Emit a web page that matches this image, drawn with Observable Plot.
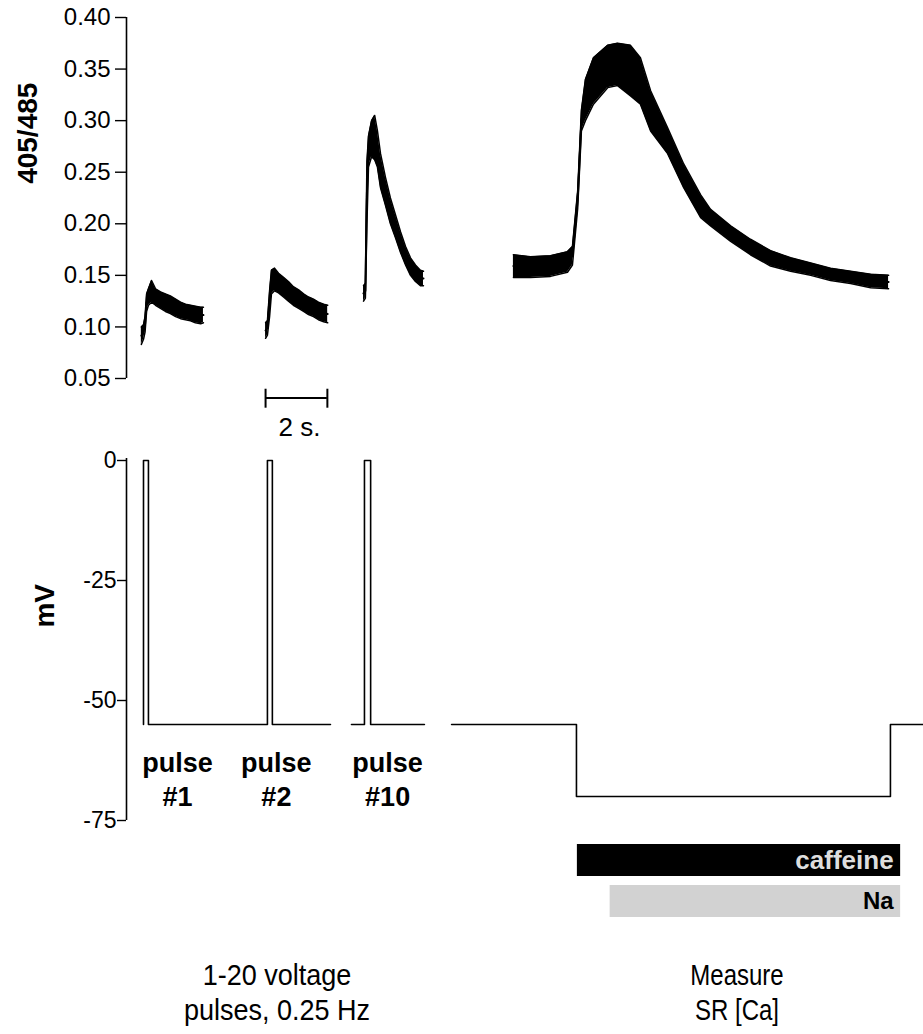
<!DOCTYPE html>
<html><head><meta charset="utf-8">
<script src="https://cdn.jsdelivr.net/npm/d3@7"></script>
<script src="https://cdn.jsdelivr.net/npm/@observablehq/plot@0.6"></script>
<style>
body{margin:0;background:#fff;}
#wrap{position:relative;width:923px;height:1034px;overflow:hidden;font-family:"Liberation Sans",Arial,sans-serif;background:#fff;}
#wrap > div.p{position:absolute;left:0;}
.cap{position:absolute;width:300px;text-align:center;font-size:30px;line-height:35px;color:#000;
  font-family:"Liberation Sans",Arial,sans-serif;transform-origin:50% 50%;}
</style></head><body>
<div id="wrap">
 <div class="p" id="top" style="top:0"></div>
 <div class="p" id="bottom" style="top:445px"></div>
 <div class="p" id="bars" style="top:840px"></div>
 <div class="cap" style="left:127px;top:957px;transform:scaleX(0.9)">1-20 voltage<br>pulses, 0.25 Hz</div>
 <div class="cap" style="left:587px;top:957px;transform:scaleX(0.8)">Measure<br>SR [Ca]</div>
</div>
<script>
// ---------- data (display time in s; traces separated by breaks) ----------
const timeDomain = [-0.55, 25.24];

// 405/485 ratio traces: lower / upper edge of the noisy band
const t1  = [-0.07,0,0.05,0.10,0.16,0.26,0.39,0.55,0.71,0.87,1.04,1.20,1.36,1.52,1.68,1.85,1.94];
const lo1 = [0.083,0.088,0.095,0.115,0.121,0.124,0.121,0.118,0.115,0.113,0.110,0.108,0.107,0.106,0.104,0.103,0.104];
const hi1 = [0.100,0.102,0.110,0.132,0.137,0.145,0.137,0.134,0.132,0.130,0.127,0.124,0.122,0.121,0.120,0.119,0.119];

const t2  = [3.95,4.01,4.08,4.14,4.24,4.37,4.53,4.69,4.85,5.02,5.18,5.34,5.50,5.66,5.83,5.96];
const lo2 = [0.089,0.092,0.110,0.132,0.135,0.133,0.129,0.125,0.121,0.118,0.115,0.112,0.110,0.107,0.105,0.104];
const hi2 = [0.104,0.106,0.135,0.155,0.157,0.152,0.148,0.144,0.139,0.136,0.132,0.129,0.127,0.124,0.122,0.121];

const t3  = [7.12,7.18,7.23,7.28,7.38,7.48,7.57,7.67,7.83,7.99,8.16,8.32,8.48,8.64,8.80,8.96,9.06];
const lo3 = [0.125,0.128,0.200,0.255,0.265,0.262,0.255,0.235,0.218,0.200,0.186,0.172,0.160,0.150,0.144,0.140,0.140];
const hi3 = [0.140,0.142,0.260,0.285,0.300,0.305,0.290,0.268,0.245,0.225,0.208,0.192,0.178,0.167,0.160,0.155,0.154];

const t4  = [11.97,12.52,13.17,13.72,13.88,14.05,14.17,14.30,14.56,15.02,15.34,15.76,16.08,16.41,16.96,17.48,18.03,18.35,19.00,19.64,20.29,20.94,21.59,22.23,22.88,23.53,24.11];
const lo4 = [0.148,0.148,0.149,0.153,0.160,0.215,0.290,0.300,0.316,0.332,0.334,0.324,0.316,0.290,0.268,0.235,0.206,0.198,0.183,0.170,0.159,0.154,0.150,0.145,0.142,0.138,0.137];
const hi4 = [0.170,0.168,0.169,0.173,0.178,0.232,0.310,0.340,0.361,0.373,0.375,0.373,0.361,0.329,0.293,0.258,0.228,0.214,0.198,0.185,0.174,0.167,0.162,0.157,0.154,0.151,0.150];

const ratioTicks = [0.05,0.10,0.15,0.20,0.25,0.30,0.35,0.40];

// voltage protocol
const vSeg  = ["a","a","a","a","a","a","a","a","a", "b","b","b","b","b","b", "c","c","c","c","c","c"];
const vTime = [0,0,0.16,0.16,4.01,4.01,4.17,4.17,6.05, 6.73,7.15,7.15,7.35,7.35,9.09, 9.97,14.01,14.01,24.17,24.17,25.24];
const vMv   = [-55,0,0,-55,-55,0,0,-55,-55, -55,-55,0,0,-55,-55, -55,-55,-70,-70,-55,-55];
const mvTicks = [0,-25,-50,-75];

const pulseLabelTime = [1.10, 4.30, 7.90];
const pulseWord = ["pulse","pulse","pulse"];
const pulseNum = ["#1","#2","#10"];

// scale bar
const scaleBarStart = 3.95;
const scaleBarLength = 2;
const scaleBarLabel = "2 s.";

// solution bars
const solNames = ["caffeine","Na"];
const solStart = [14.04, 15.1];
const solEnd = [24.5, 24.5];

// ---------- tables ----------
const fluor = [];
[[t1,lo1,hi1,"1"],[t2,lo2,hi2,"2"],[t3,lo3,hi3,"10"],[t4,lo4,hi4,"caf"]].forEach(([t,lo,hi,k]) =>
  t.forEach((v,i) => fluor.push({trace:k, t:v, lo:lo[i], hi:hi[i], mid:(lo[i]+hi[i])/2})));
const volt = vTime.map((t,i) => ({seg:vSeg[i], t, mv:vMv[i]}));
const pulseLabels = pulseLabelTime.map((t,i) => ({t, word:pulseWord[i], num:pulseNum[i]}));
const sol = solNames.map((name,i) => ({name, x1:solStart[i], x2:solEnd[i]}));

const font = "'Liberation Sans', Arial, Helvetica, sans-serif";
const xScale = {domain: timeDomain, range: [126, 923], axis: null};

// ---------- top panel ----------
const topPlot = Plot.plot({
  width: 923, height: 445,
  marginLeft: 126, marginRight: 0, marginTop: 17, marginBottom: 67,
  style: {fontFamily: font, background: "white", color: "black"},
  x: xScale,
  y: {domain: [0.05, 0.40], axis: null},
  marks: [
    Plot.ruleX([timeDomain[0]], {y1: 0.05, y2: 0.40, stroke: "black", strokeWidth: 1.6}),
    Plot.axisY({ticks: ratioTicks, tickFormat: d => d.toFixed(2), tickSize: 11, tickPadding: 5,
      fontSize: 24, label: null, strokeWidth: 1.4}),
    Plot.text(["405/485"], {y: 0.2387, frameAnchor: "left", dx: -98, rotate: -90,
      fontSize: 28, fontWeight: "bold", text: d => d}),
    Plot.areaY(fluor, {x: "t", y1: "lo", y2: "hi", z: "trace", fill: "black"}),
    Plot.line(fluor, {x: "t", y: "lo", z: "trace", stroke: "black", strokeWidth: 1.5}),
    Plot.line(fluor, {x: "t", y: "hi", z: "trace", stroke: "black", strokeWidth: 1.5}),
    Plot.line(fluor, {x: "t", y: "mid", z: "trace", stroke: "black", strokeWidth: 2}),
    // 2 s scale bar
    Plot.ruleY([0.031], {x1: scaleBarStart, x2: scaleBarStart + scaleBarLength, stroke: "black", strokeWidth: 2}),
    Plot.ruleX([scaleBarStart, scaleBarStart + scaleBarLength], {y1: 0.0212, y2: 0.0396, stroke: "black", strokeWidth: 2}),
    Plot.text([scaleBarLabel], {x: scaleBarStart + scaleBarLength / 2, y: 0.002, dx: 3, text: d => d, fontSize: 26})
  ]
});
document.getElementById("top").append(topPlot);

// ---------- bottom panel ----------
const bottomPlot = Plot.plot({
  width: 923, height: 395,
  marginLeft: 126, marginRight: 0, marginTop: 15, marginBottom: 20,
  style: {fontFamily: font, background: "white", color: "black"},
  x: xScale,
  y: {domain: [-75, 0], axis: null},
  marks: [
    Plot.ruleX([timeDomain[0]], {y1: -75, y2: 0.4, stroke: "black", strokeWidth: 1.6}),
    Plot.axisY({ticks: mvTicks, tickFormat: d => String(d), tickSize: 9, tickPadding: 1,
      fontSize: 23, label: null, strokeWidth: 1.4}),
    Plot.text(["mV"], {y: -34.8, frameAnchor: "left", dx: -81, rotate: -90,
      fontSize: 28, fontWeight: "bold", text: d => d}),
    Plot.line(volt, {x: "t", y: "mv", z: "seg", stroke: "black", strokeWidth: 1.6}),
    Plot.text(pulseLabels, {x: "t", y: -63.1, text: "word", fontSize: 27, fontWeight: "bold"}),
    Plot.text(pulseLabels, {x: "t", y: -70.2, text: "num", fontSize: 27, fontWeight: "bold"})
  ]
});
document.getElementById("bottom").append(bottomPlot);

// ---------- solution bars ----------
const barsPlot = Plot.plot({
  width: 923, height: 80,
  marginLeft: 126, marginRight: 0, marginTop: 3, marginBottom: 3,
  style: {fontFamily: font, background: "white", color: "black"},
  x: xScale,
  y: {domain: solNames, axis: null, paddingInner: 0.22, paddingOuter: 0},
  marks: [
    Plot.barX(sol, {x1: "x1", x2: "x2", y: "name", fill: d => d.name === "caffeine" ? "#000" : "#d2d2d2"}),
    Plot.text(sol, {x: "x2", y: "name", text: "name", textAnchor: "end", dx: -7, fontWeight: "bold",
      fontSize: d => d.name === "caffeine" ? 26 : 24, fill: d => d.name === "caffeine" ? "#dedede" : "#000"})
  ]
});
document.getElementById("bars").append(barsPlot);
</script>
</body></html>
